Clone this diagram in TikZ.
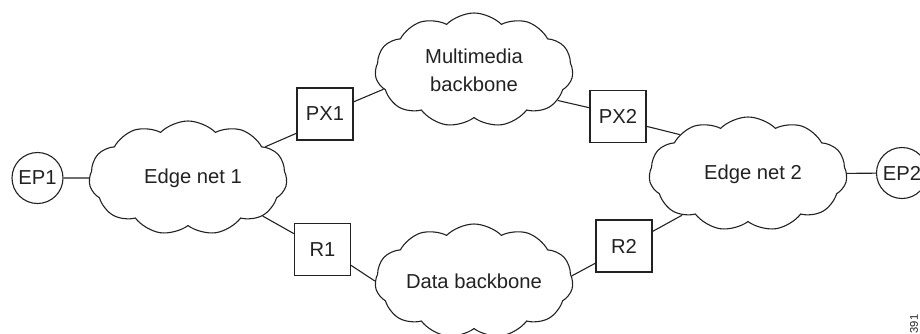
\documentclass[tikz,border=0pt]{standalone}
\usepackage{fontspec}
\setsansfont{Liberation Sans}
\usetikzlibrary{shapes.symbols}
\definecolor{inkgray}{HTML}{222222}

\begin{document}
\begin{tikzpicture}[x=0.5pt,y=-0.5pt,font=\sffamily\fontsize{10.1}{14}\selectfont,line width=0.55pt,draw=inkgray,text=inkgray,
					netcloud/.style={shape=cloud, draw=inkgray, cloud puffs=11, cloud puff arc=90, cloud ignores aspect, minimum width=99pt, minimum height=57pt, inner sep=0pt, align=center},
					endpoint/.style={shape=circle, draw=inkgray, minimum size=25.5pt, inner sep=0pt},
					gateway/.style={shape=rectangle, draw=inkgray, minimum width=28pt, minimum height=26pt, inner sep=0pt}
					]
	\useasboundingbox (0,0) rectangle (920,333); %frame

	%clouds
	\node[netcloud] (edge1) at (188,178) {\hspace*{5pt}Edge net 1}; %left edge net
	\node[netcloud] (edge2) at (748,174) {\hspace*{5pt}Edge net 2}; %right edge net
	\node[netcloud] (mmbone) at (474,70) {Multimedia\\backbone}; %upper backbone
	\node[netcloud] (databone) at (474,281) {Data backbone}; %lower backbone

	%end points
	\node[endpoint] (ep1) at (37.5,178) {EP1};
	\node[endpoint] (ep2) at (902,173) {EP2};

	%boxes
	\node[gateway] (px1) at (325,114) {PX1};
	\node[gateway] (px2) at (618,116.5) {PX2};
	\node[gateway] (r1) at (322.5,249.5) {R1};
	\node[gateway] (r2) at (624,246) {R2};

	%links
	\draw (ep1) -- (edge1);
	\draw (edge2) -- (ep2);
	\draw (edge1.22) -- (px1.214); %upper path
	\draw (px1.23) -- (mmbone.192);
	\draw (mmbone.340) -- (px2.163);
	\draw (px2.341) -- (edge2.150);
	\draw (edge1.333) -- (r1.151); %lower path
	\draw (r1.331) -- (databone.180);
	\draw (databone.3) -- (r2.211);
	\draw (r2.27) -- (edge2.212);

	%figure number
	\node[rotate=90, anchor=east, inner sep=0pt, font=\sffamily\fontsize{5.6}{6}\selectfont] (fignum) at (914,314) {391};
\end{tikzpicture}
\end{document}
